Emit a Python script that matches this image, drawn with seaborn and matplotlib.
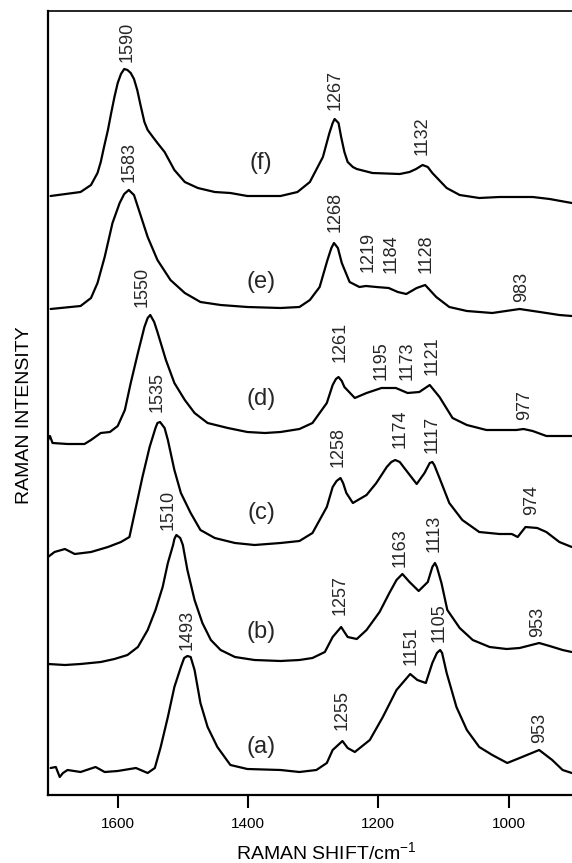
import matplotlib
matplotlib.use("Agg")
import matplotlib.pyplot as plt
import pandas as pd
import seaborn as sns

# Raman spectra (a)-(f): wavenumber (cm-1) and stacked intensity (arbitrary units)
wn_a = [1703, 1695, 1689, 1684, 1677, 1657, 1634, 1620, 1600, 1572, 1554, 1543, 1534, 1523, 1513,
        1503, 1498, 1493, 1488, 1482, 1473, 1462, 1447, 1427, 1401, 1350, 1321, 1295, 1279, 1270,
        1255, 1247, 1236, 1213, 1193, 1172, 1151, 1140, 1127, 1117, 1110, 1105, 1102, 1095, 1080,
        1064, 1045, 1025, 1002, 983, 953, 933, 917, 903]
int_a = [27, 28, 18, 22, 25, 23, 28, 23, 24, 27, 22, 27, 48, 78, 108,
         128, 137, 139, 138, 125, 92, 68, 48, 30, 26, 25, 23, 25, 32, 45,
         54, 47, 43, 55, 78, 105, 121, 115, 112, 132, 142, 145, 142, 122, 88,
         65, 48, 40, 32, 37, 45, 35, 25, 22]

wn_b = [1707, 1681, 1657, 1626, 1605, 1585, 1569, 1554, 1542, 1531, 1523, 1515, 1513, 1510, 1504,
        1500, 1493, 1482, 1470, 1457, 1442, 1420, 1390, 1350, 1321, 1301, 1282, 1270, 1257, 1247,
        1233, 1218, 1198, 1183, 1172, 1163, 1152, 1138, 1124, 1117, 1113, 1110, 1103, 1094, 1075,
        1055, 1029, 1003, 983, 953, 937, 917, 903]
int_b = [131, 130, 131, 133, 136, 140, 148, 165, 185, 208, 232, 250, 256, 260, 257,
         250, 225, 195, 172, 155, 145, 138, 135, 134, 135, 137, 143, 158, 168, 158,
         156, 165, 183, 202, 215, 221, 213, 204, 213, 228, 232, 228, 212, 185, 167,
         155, 148, 146, 147, 152, 149, 145, 143]

wn_c = [1707, 1697, 1681, 1666, 1641, 1615, 1595, 1582, 1572, 1562, 1551, 1542, 1539, 1535, 1528,
        1523, 1513, 1503, 1488, 1473, 1451, 1420, 1390, 1350, 1321, 1301, 1279, 1270, 1264, 1258,
        1254, 1249, 1239, 1218, 1203, 1187, 1180, 1174, 1167, 1160, 1141, 1129, 1121, 1117, 1114,
        1106, 1091, 1071, 1045, 1014, 995, 986, 974, 956, 942, 922, 903]
int_c = [238, 243, 246, 241, 243, 248, 253, 258, 288, 318, 348, 367, 372, 373, 367,
         355, 325, 302, 282, 265, 257, 252, 250, 252, 254, 262, 288, 308, 314, 317,
         312, 302, 292, 300, 312, 328, 333, 335, 333, 327, 311, 322, 332, 333, 330,
         317, 292, 275, 263, 261, 261, 258, 268, 267, 263, 253, 248]

wn_d = [1707, 1704, 1700, 1677, 1651, 1641, 1626, 1612, 1600, 1589, 1580, 1569, 1559, 1554, 1550,
        1544, 1539, 1526, 1513, 1497, 1482, 1462, 1431, 1401, 1374, 1350, 1321, 1301, 1279, 1270,
        1265, 1261, 1256, 1252, 1236, 1218, 1195, 1173, 1155, 1137, 1121, 1106, 1086, 1064, 1034,
        988, 977, 963, 942, 903]
int_d = [355, 359, 352, 351, 351, 355, 362, 363, 369, 385, 412, 442, 468, 477, 480,
         473, 463, 435, 412, 395, 382, 372, 367, 363, 362, 363, 366, 372, 392, 410,
         416, 418, 414, 408, 397, 402, 407, 407, 402, 403, 410, 398, 377, 370, 365,
         365, 366, 364, 359, 359]

wn_e = [1703, 1657, 1641, 1631, 1620, 1608, 1597, 1590, 1583, 1575, 1569, 1554, 1539, 1519, 1497,
        1473, 1442, 1401, 1350, 1321, 1305, 1290, 1278, 1272, 1268, 1262, 1256, 1244, 1229, 1219,
        1203, 1184, 1170, 1157, 1141, 1128, 1111, 1091, 1064, 1025, 983, 952, 922, 903]
int_e = [486, 489, 497, 512, 538, 572, 592, 601, 605, 600, 588, 558, 535, 515, 502,
         493, 490, 488, 487, 488, 495, 508, 535, 547, 552, 547, 532, 513, 508, 509,
         508, 507, 503, 501, 507, 510, 498, 488, 484, 482, 486, 483, 480, 479]

wn_f = [1703, 1657, 1641, 1631, 1626, 1621, 1615, 1610, 1605, 1600, 1595, 1590, 1585, 1580, 1575,
        1570, 1565, 1559, 1554, 1546, 1539, 1528, 1513, 1497, 1477, 1451, 1427, 1401, 1350, 1324,
        1305, 1285, 1280, 1275, 1270, 1267, 1261, 1257, 1252, 1247, 1239, 1233, 1209, 1167, 1152,
        1142, 1132, 1124, 1117, 1095, 1075, 1045, 1014, 963, 937, 903]
int_f = [599, 603, 610, 622, 633, 648, 665, 682, 698, 712, 721, 726, 725, 722, 716,
         705, 690, 673, 665, 658, 652, 643, 625, 613, 607, 603, 602, 599, 599, 603,
         613, 638, 650, 662, 672, 676, 672, 658, 643, 633, 628, 626, 622, 621, 623,
         626, 630, 628, 622, 607, 600, 597, 598, 598, 596, 592]

sample_names = ["(a)", "(b)", "(c)", "(d)", "(e)", "(f)"]

# Assigned band positions (cm-1) for each spectrum
peaks_a = [1493, 1255, 1151, 1105, 953]
peaks_b = [1510, 1257, 1163, 1113, 953]
peaks_c = [1535, 1258, 1174, 1117, 974]
peaks_d = [1550, 1261, 1195, 1173, 1121, 977]
peaks_e = [1583, 1268, 1219, 1184, 1128, 983]
peaks_f = [1590, 1267, 1132]

# Placement of the rotated band labels: (x in cm-1, bottom of text in intensity units)
label_pos_a = [(1494, 145), (1256, 65), (1149, 130), (1107, 153), (952, 52)]
label_pos_b = [(1523, 265), (1259, 180), (1166, 228), (1115, 243), (956, 158)]
label_pos_c = [(1540, 383), (1261, 328), (1167, 347), (1118, 342), (965, 280)]
label_pos_d = [(1562, 488), (1259, 433), (1195, 415), (1155, 415), (1118, 420), (976, 375)]
label_pos_e = [(1583, 613), (1267, 563), (1215, 523), (1180, 522), (1126, 522), (980, 493)]
label_pos_f = [(1586, 733), (1266, 685), (1132, 640)]

# Placement of the spectrum tags
tag_pos = [(1380, 48), (1380, 163), (1380, 282), (1380, 396), (1380, 513), (1380, 632)]

spectra = [(wn_a, int_a), (wn_b, int_b), (wn_c, int_c), (wn_d, int_d), (wn_e, int_e), (wn_f, int_f)]
peaks = [peaks_a, peaks_b, peaks_c, peaks_d, peaks_e, peaks_f]
label_pos = [label_pos_a, label_pos_b, label_pos_c, label_pos_d, label_pos_e, label_pos_f]

frames = []
for name, (wn, inten) in zip(sample_names, spectra):
    frames.append(pd.DataFrame({"shift": wn, "intensity": inten, "sample": name}))
df = pd.concat(frames, ignore_index=True)

sns.set_style("ticks")
plt.rcParams["font.family"] = ["Liberation Sans", "DejaVu Sans"]
plt.rcParams["mathtext.fontset"] = "custom"
plt.rcParams["mathtext.rm"] = "Liberation Sans"
plt.rcParams["mathtext.it"] = "Liberation Sans:italic"

fig = plt.figure(figsize=(5.72, 8.63), dpi=100)
ax = fig.add_axes([48 / 572, 68 / 863, 527 / 572, 784 / 863])

sns.lineplot(data=df, x="shift", y="intensity", units="sample", estimator=None,
             sort=False, color="black", linewidth=1.6, ax=ax,
             solid_joinstyle="round", solid_capstyle="round")

for vals, poss in zip(peaks, label_pos):
    for v, (lx, ly) in zip(vals, poss):
        ax.text(lx, ly, str(v), rotation=90, ha="center", va="bottom", fontsize=13)

for name, (tx, ty) in zip(sample_names, tag_pos):
    ax.text(tx, ty, name, ha="center", va="center", fontsize=17)

ax.set_xlim(1707, 898)
ax.set_ylim(0, 784)
ax.set_xticks([1600, 1400, 1200, 1000])
ax.set_yticks([])
ax.tick_params(axis="x", direction="out", length=9, width=1.5, pad=7,
               labelsize=11, color="black", labelcolor="black")

for side in ["left", "bottom"]:
    ax.spines[side].set_linewidth(1.6)
    ax.spines[side].set_color("black")
ax.spines["top"].set_linewidth(1.2)
ax.spines["top"].set_color("black")
ax.spines["right"].set_visible(False)

ax.set_xlabel("RAMAN SHIFT/cm$^{-1}$", fontsize=14, color="black")
ax.xaxis.set_label_coords(0.529, -0.0727)
ax.xaxis.label.set_va("center")
ax.set_ylabel("RAMAN INTENSITY", fontsize=14, color="black")
ax.yaxis.set_label_coords(-0.0446, 0.485)
ax.yaxis.label.set_va("center")

fig.savefig("out.png", dpi=100)
